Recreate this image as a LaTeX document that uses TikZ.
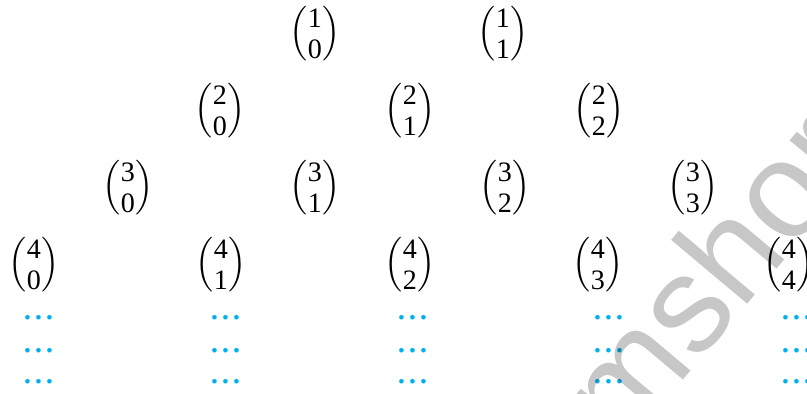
\documentclass[tikz,border=0pt]{standalone}
\usepackage{amsmath}
\usepackage{xcolor}
\usepackage{fontspec}
\setmainfont{Liberation Serif}
\newfontfamily\markfont{Liberation Sans}
\definecolor{dotblue}{RGB}{0,176,240}
\usepackage{tikz}

% n over k in round brackets
\newcommand{\coefpair}[2]{$\Big(\vcenter{\baselineskip=17.6pt\lineskiplimit=-100pt
    \hbox{\fontsize{16}{17.6}\selectfont #1}\hbox{\fontsize{16}{17.6}\selectfont #2}}\Big)$}
% three centred dots, set close
\newcommand{\moredots}{·\kern-1.2pt·\kern-1.2pt·}

\begin{document}
\begin{tikzpicture}[
    x=0.02cm, y=-0.02cm,
    coef/.style={inner sep=0pt, font=\fontsize{17}{20}\selectfont},
    more/.style={inner sep=0pt, anchor=base, text=dotblue, font=\fontsize{22}{24}\selectfont},
    mark text/.style={inner sep=0pt, text=black, text opacity=0.22, rotate=50, font=\markfont\fontsize{78}{86}\selectfont}
]
\useasboundingbox (0,0) rectangle (807,394);
% row n = 1
\node[coef] (c10) at (315,34) {\coefpair{1}{0}};
\node[coef] (c11) at (503,34) {\coefpair{1}{1}};
% row n = 2
\node[coef] (c20) at (220,111) {\coefpair{2}{0}};
\node[coef] (c21) at (410,111) {\coefpair{2}{1}};
\node[coef] (c22) at (599,111) {\coefpair{2}{2}};
% row n = 3
\node[coef] (c30) at (128,188) {\coefpair{3}{0}};
\node[coef] (c31) at (315,188) {\coefpair{3}{1}};
\node[coef] (c32) at (505,188) {\coefpair{3}{2}};
\node[coef] (c33) at (693,188) {\coefpair{3}{3}};
% row n = 4
\node[coef] (c40) at (34,265) {\coefpair{4}{0}};
\node[coef] (c41) at (221,265) {\coefpair{4}{1}};
\node[coef] (c42) at (410,265) {\coefpair{4}{2}};
\node[coef] (c43) at (598,265) {\coefpair{4}{3}};
\node[coef] (c44) at (789,265) {\coefpair{4}{4}};
% dots below each column
\foreach \col/\x in {0/39, 1/226, 2/413, 3/609, 4/797} {
    \node[more] (d\col a) at (\x,330.5) {\moredots};
    \node[more] (d\col b) at (\x,363) {\moredots};
    \node[more] (d\col c) at (\x,394.5) {\moredots};
}
% watermark
\begin{scope}
\clip (0,0) rectangle (807,394);
\node[mark text] (wm) at (684,303) {amshor};
\end{scope}
\end{tikzpicture}
\end{document}
